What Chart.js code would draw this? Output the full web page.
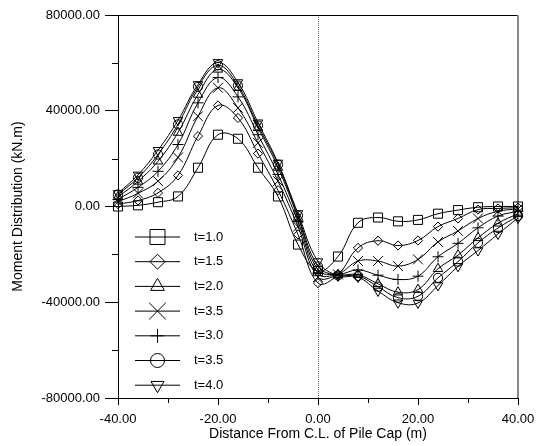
<!DOCTYPE html>
<html>
<head>
<meta charset="utf-8">
<script src="https://cdn.jsdelivr.net/npm/chart.js@4.4.1/dist/chart.umd.min.js"></script>
<style>
  html, body { margin: 0; padding: 0; background: #fff; }
  canvas { display: block; }
</style>
</head>
<body>
<canvas id="chart" width="537" height="446"></canvas>
<script>
// distance from pile cap centre line (m)
const distances = [-40, -36, -32, -28, -24, -20, -16, -12, -8, -4, 0, 4, 8, 12, 16, 20, 24, 28, 32, 36, 40];

const seriesLabels = ['t=1.0', 't=1.5', 't=2.0', 't=3.5', 't=3.0', 't=3.5', 't=4.0'];

// moment (kN.m), one array per curve
const t10  = [0, 500, 1800, 4200, 16200, 30000, 28300, 16200, 4200, -15900, -27000, -20900, -6800, -4600, -6200, -5600, -3000, -1500, -300, 0, 0];
const t15  = [1000, 2500, 5700, 13000, 29400, 42200, 37000, 22100, 6800, -11700, -32000, -28400, -17300, -14300, -16300, -14200, -8400, -5000, -1300, -800, -500];
const t20  = [4000, 10500, 18900, 30900, 46800, 57300, 49600, 32900, 16300, -4600, -26500, -28600, -28500, -32300, -35800, -34700, -26000, -20300, -13100, -7000, -3000];
const t35a = [2000, 5500, 10600, 20500, 37700, 49600, 41200, 26600, 10600, -8400, -29500, -28400, -22800, -22800, -24900, -22100, -14800, -10200, -5000, -2000, -1000];
const t30  = [3000, 8000, 14700, 25900, 43300, 53900, 45800, 30000, 13400, -6300, -28000, -28500, -26500, -28700, -30500, -29100, -21000, -15400, -8900, -4000, -2000];
const t35b = [5000, 12000, 21700, 34300, 50000, 59000, 50500, 33800, 17500, -3800, -25000, -28800, -29000, -33500, -38100, -37500, -29800, -23000, -15200, -9000, -4000];
const t40  = [5500, 13200, 23500, 36000, 51000, 60200, 51800, 35000, 18200, -2900, -23000, -29000, -29500, -35300, -40200, -40300, -33000, -25000, -18400, -11500, -4800];

const xTicks = [-40, -20, 0, 20, 40];
const xMinorTicks = [-30, -10, 10, 30];
const yTicks = [-80000, -40000, 0, 40000, 80000];
const yMinorTicks = [-60000, -20000, 20000, 60000];

const seriesValues = [t10, t15, t20, t35a, t30, t35b, t40];

// marker look for each curve (r = on curve, lr = in legend)
const markers = [
    { style: 'rect', r: 6.4, rot: 0, lr: 10.6 },
    { style: 'rectRot', r: 4.6, rot: 0, lr: 7.5 },
    { style: 'triangle', r: 5.5, rot: 0, lr: 8 },
    { style: 'crossRot', r: 7, rot: 0, lr: 11.8 },
    { style: 'cross', r: 5.5, rot: 0, lr: 7 },
    { style: 'circle', r: 4.6, rot: 0, lr: 7 },
    { style: 'triangle', r: 5.5, rot: 180, lr: 7.5 }
];

Chart.defaults.font.family = '"Liberation Sans", Arial, sans-serif';
Chart.defaults.color = '#000';

const datasets = seriesValues.map((vals, i) => ({
    label: seriesLabels[i],
    data: distances.map((d, j) => ({ x: d, y: vals[j] })),
    borderColor: '#000',
    borderWidth: 1,
    backgroundColor: 'rgba(0,0,0,0)',
    pointStyle: markers[i].style,
    pointRotation: markers[i].rot,
    pointRadius: markers[i].r,
    pointBorderColor: '#000',
    pointBorderWidth: 1,
    pointBackgroundColor: 'rgba(0,0,0,0)',
    tension: 0.4,
    fill: false,
    clip: false
}));

// frame, minor ticks, centre line and legend
const extras = {
    id: 'extras',
    beforeDatasetsDraw(chart) {
        const { ctx, chartArea: a, scales: { x, y } } = chart;
        ctx.save();
        ctx.strokeStyle = '#707070';
        ctx.lineWidth = 1;
        ctx.setLineDash([1, 1]);
        const x0 = Math.round(x.getPixelForValue(0)) + 0.5;
        ctx.beginPath();
        ctx.moveTo(x0, a.top);
        ctx.lineTo(x0, a.bottom);
        ctx.stroke();
        ctx.setLineDash([]);

        // top and right border
        ctx.strokeStyle = '#000';
        ctx.beginPath();
        ctx.moveTo(a.left - 13, a.top + 0.5);
        ctx.lineTo(a.right, a.top + 0.5);
        ctx.stroke();
        ctx.strokeStyle = '#888';
        ctx.lineWidth = 2;
        ctx.beginPath();
        ctx.moveTo(a.right, a.top);
        ctx.lineTo(a.right, a.bottom);
        ctx.stroke();

        // minor ticks
        ctx.strokeStyle = '#000';
        ctx.lineWidth = 1;
        ctx.beginPath();
        yMinorTicks.forEach(v => {
            const py = Math.round(y.getPixelForValue(v)) + 0.5;
            ctx.moveTo(a.left - 6, py);
            ctx.lineTo(a.left, py);
        });
        xMinorTicks.forEach(v => {
            const px = Math.round(x.getPixelForValue(v)) + 0.5;
            ctx.moveTo(px, a.bottom);
            ctx.lineTo(px, a.bottom + 5);
        });
        ctx.stroke();
        ctx.restore();
    },
    afterDatasetsDraw(chart) {
        const { ctx } = chart;
        ctx.save();
        ctx.font = '13px "Liberation Sans", Arial, sans-serif';
        ctx.textBaseline = 'middle';
        ctx.textAlign = 'left';
        seriesLabels.forEach((lab, i) => {
            const yy = 237 + i * 24.7;
            ctx.strokeStyle = '#000';
            ctx.lineWidth = 1;
            ctx.beginPath();
            ctx.moveTo(135, yy);
            ctx.lineTo(180, yy);
            ctx.stroke();
            ctx.fillStyle = 'rgba(0,0,0,0)';
            Chart.helpers.drawPoint(ctx, {
                pointStyle: markers[i].style,
                rotation: markers[i].rot,
                radius: markers[i].lr,
                borderWidth: 1
            }, 157.5, yy);
            ctx.fillStyle = '#000';
            ctx.fillText(lab, 194, yy);
        });
        ctx.restore();
    }
};

new Chart(document.getElementById('chart'), {
    type: 'line',
    data: { datasets },
    options: {
        responsive: false,
        animation: false,
        devicePixelRatio: 1,
        layout: { padding: { left: 0, top: 15, right: 19, bottom: 0 } },
        plugins: { legend: { display: false }, tooltip: { enabled: false } },
        scales: {
            x: {
                type: 'linear',
                min: -40,
                max: 40,
                afterBuildTicks: s => { s.ticks = xTicks.map(v => ({ value: v })); },
                afterFit: s => { s.height = 48; s.paddingLeft = 0; s.paddingRight = 0; },
                ticks: { callback: v => v.toFixed(2), font: { size: 13 }, padding: 7, maxRotation: 0 },
                grid: { drawOnChartArea: false, tickLength: 7, tickColor: '#000' },
                border: { color: '#000', width: 1 },
                title: { display: true, text: 'Distance From C.L. of Pile Cap (m)', font: { size: 14 }, padding: { top: 0, bottom: 3 } }
            },
            y: {
                type: 'linear',
                min: -80000,
                max: 80000,
                afterBuildTicks: s => { s.ticks = yTicks.map(v => ({ value: v })); },
                afterFit: s => { s.width = 118; s.paddingTop = 0; s.paddingBottom = 0; },
                ticks: { callback: v => v.toFixed(2), font: { size: 13 }, padding: 5 },
                grid: { drawOnChartArea: false, tickLength: 13, tickColor: '#000' },
                border: { color: '#000', width: 1 },
                title: { display: true, text: 'Moment Distribution (kN.m)', font: { size: 14 }, padding: { top: 10, bottom: 0 } }
            }
        }
    },
    plugins: [extras]
});
</script>
</body>
</html>
